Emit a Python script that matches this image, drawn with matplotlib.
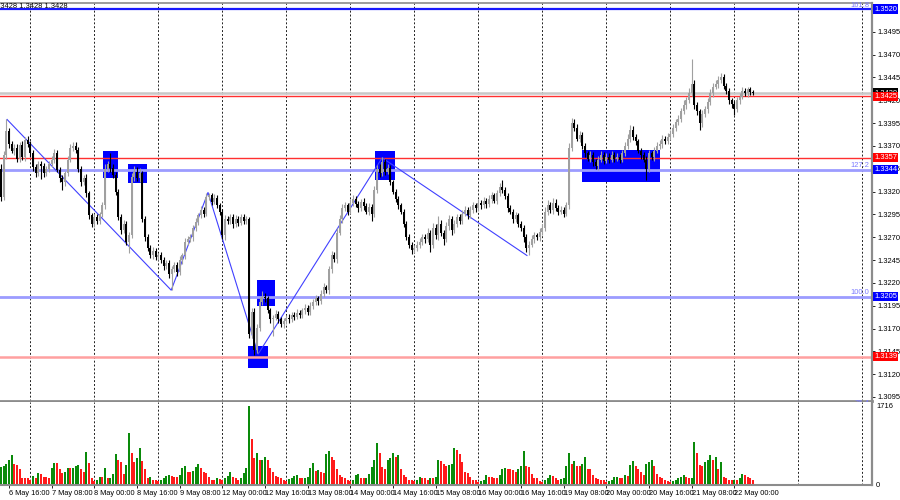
import numpy as np
import matplotlib
matplotlib.use("Agg")
import matplotlib.pyplot as plt
from matplotlib.patches import Rectangle

plt.rcParams["font.family"] = ["Liberation Sans", "DejaVu Sans"]

# GBPUSD H1, one entry per bar, 6 May 13:00 .. 22 May 07:00
# prices kept as the last four digits: 3314 -> 1.3314
first_open = 3345
closes = [
    3314, 3360, 3386, 3372, 3365, 3368, 3356, 3371, 3358, 3377, 3372, 3362,
    3347, 3340, 3350, 3348, 3340, 3345, 3350, 3355, 3362, 3344, 3335, 3330,
    3340, 3355, 3368, 3370, 3366, 3345, 3330, 3335, 3318, 3294, 3285, 3292,
    3288, 3295, 3305, 3345, 3350, 3346, 3338, 3320, 3292, 3278, 3285, 3265,
    3272, 3336, 3342, 3335, 3340, 3290, 3270, 3258, 3250, 3255, 3248, 3250,
    3245, 3238, 3242, 3230, 3235, 3240, 3232, 3245, 3250, 3265,
    3268, 3270, 3280, 3287, 3294, 3300, 3296, 3314, 3316, 3309, 3313, 3305, 3298,
    3272, 3290, 3288, 3292, 3284, 3290, 3286, 3292, 3288, 3290,
    3164, 3188, 3146, 3171, 3199, 3205, 3203, 3190, 3180, 3182,
    3186, 3180, 3175, 3178, 3182, 3180, 3185, 3183, 3187, 3185,
    3190, 3193, 3188, 3195, 3199, 3203, 3200, 3208, 3215, 3212, 3235, 3250, 3246, 3275, 3290, 3302,
    3305, 3298, 3308, 3312, 3306, 3302, 3309, 3304, 3298, 3303, 3296,
    3322, 3345, 3340, 3352, 3342, 3346, 3330, 3320, 3312, 3305, 3298, 3285, 3270, 3262, 3256, 3258,
    3262, 3265, 3270,
    3268, 3275, 3262, 3280, 3272, 3285, 3275, 3268, 3282, 3290, 3278, 3285, 3292, 3288, 3296, 3300,
    3294, 3300, 3305, 3302, 3308, 3305, 3310, 3306, 3312, 3316, 3310, 3318, 3325, 3322,
    3315, 3302, 3298, 3290, 3294, 3285, 3280, 3270, 3258, 3262, 3268, 3272, 3270, 3276, 3280, 3298,
    3305, 3300, 3308, 3302, 3298, 3300, 3296, 3305,
    3368, 3395, 3390, 3378, 3382, 3370, 3362, 3356, 3360, 3352, 3348, 3355, 3360, 3354,
    3358, 3355, 3360, 3356, 3358, 3355, 3362, 3370, 3378, 3388, 3380, 3375, 3365, 3360, 3355, 3345,
    3362, 3358, 3365, 3370, 3372, 3378, 3375, 3380,
    3383, 3390, 3396, 3400, 3408, 3415, 3420, 3428, 3438, 3415, 3408, 3395, 3405, 3410, 3418, 3428,
    3435, 3438, 3442, 3446, 3436, 3430, 3420, 3416, 3410, 3420, 3424, 3430, 3428, 3432, 3429, 3428,
]
# wick lengths above / below the body, in pips
wick_up = [
    5, 5, 13, 4, 3, 4, 4, 3, 4, 3, 4, 3,
    4, 3, 3, 4, 3, 3, 4, 4, 5, 4, 3, 3,
    3, 4, 4, 4, 4, 3, 3, 3, 4, 3, 3, 4,
    3, 3, 4, 5, 4, 12, 4, 3, 3, 3, 4, 3,
    4, 4, 6, 5, 6, 3, 3, 3, 3, 4, 3, 3,
    4, 3, 3, 3, 4, 3, 3, 4, 3, 4,
    3, 4, 3, 4, 3, 4, 3, 4, 3, 3, 4, 3, 3,
    3, 4, 3, 4, 3, 4, 3, 4, 3, 3,
    2, 5, 4, 4, 5, 6, 4, 3, 3, 3,
    4, 3, 3, 4, 3, 4, 3, 3, 4, 3,
    3, 4, 3, 4, 3, 4, 3, 4, 5, 3, 4, 5, 4, 5, 4, 4,
    4, 3, 4, 4, 3, 4, 3, 4, 3, 4, 3,
    4, 4, 5, 6, 4, 4, 3, 3, 3, 3, 3, 3, 3, 3, 3, 4, 4, 4, 4,
    4, 5, 3, 6, 4, 8, 4, 3, 5, 4, 3, 4, 4, 3, 4, 4, 3, 4, 4, 3, 4, 3, 4, 3, 4, 4, 3, 4, 4, 8,
    3, 3, 3, 3, 4, 3, 3, 3, 3, 4, 4, 4, 3, 4, 4, 5, 6, 4, 5, 4, 3, 4, 3, 4,
    5, 6, 4, 4, 4, 3, 3, 3, 4, 3, 4, 4, 4, 3,
    4, 4, 4, 3, 4, 3, 4, 4, 5, 5, 4, 3, 3, 3, 3, 4, 4, 3, 4, 4, 4, 4, 3, 4,
    4, 4, 4, 4, 4, 5, 4, 5, 27, 4, 3, 3, 4, 4, 4, 4, 4, 4, 5, 4, 3, 3, 3, 3, 3, 4, 4, 5, 4, 3, 3, 2,
]
wick_dn = [
    4, 3, 4, 4, 3, 5, 4, 4, 3, 4, 3, 4,
    4, 4, 3, 14, 4, 3, 4, 3, 4, 3, 4, 8,
    4, 3, 3, 4, 4, 3, 4, 3, 4, 4, 4, 4,
    4, 3, 3, 4, 3, 4, 3, 4, 3, 4, 3, 4,
    12, 3, 4, 3, 4, 3, 4, 3, 3, 4, 3, 3,
    3, 4, 3, 5, 18, 3, 4, 3, 4, 4,
    3, 3, 4, 3, 4, 3, 4, 3, 3, 4, 3, 3, 4,
    4, 5, 3, 4, 4, 3, 4, 3, 4, 3,
    4, 4, 5, 3, 4, 3, 4, 3, 4, 18,
    3, 4, 3, 4, 3, 4, 3, 4, 3, 4,
    3, 4, 3, 3, 4, 3, 4, 3, 4, 3, 4, 4, 3, 4, 3, 4,
    3, 4, 3, 4, 3, 4, 3, 4, 3, 4, 8,
    4, 3, 4, 3, 4, 3, 3, 3, 3, 4, 3, 4, 3, 4, 4, 3, 3, 4, 3,
    4, 3, 8, 4, 4, 5, 4, 6, 3, 4, 6, 3, 4, 3, 4, 3, 4, 3, 3, 4, 3, 4, 3, 4, 3, 4, 3, 4, 3, 4,
    3, 4, 3, 4, 3, 4, 3, 5, 4, 8, 3, 4, 3, 4, 4, 3, 4, 3, 4, 3, 4, 3, 4, 3,
    4, 3, 4, 3, 4, 3, 4, 3, 4, 4, 3, 4, 3, 4,
    3, 4, 3, 4, 3, 4, 3, 3, 3, 4, 3, 4, 3, 4, 3, 12, 4, 3, 4, 3, 3, 4, 3, 3,
    3, 3, 4, 3, 4, 3, 4, 3, 3, 4, 4, 7, 4, 3, 4, 3, 4, 3, 4, 3, 4, 3, 4, 4, 6, 3, 4, 3, 3, 4, 3, 2,
]
volumes = [
    380, 390, 440, 520, 630, 430, 420, 320, 140, 130, 130, 80,
    180, 140, 250, 230, 165, 150, 140, 350, 470, 460, 340, 250,
    255, 350, 345, 355, 400, 410, 320, 260, 700, 470, 130, 60,
    80, 160, 160, 350, 130, 140, 230, 650, 520, 480, 230, 420,
    1110, 690, 490, 570, 800, 500, 320, 140, 160, 80, 80, 70,
    90, 130, 180, 190, 180, 160, 150, 210, 350, 400,
    270, 270, 290, 370, 430, 350, 270, 250, 150, 100, 100, 130, 120,
    90, 140, 180, 270, 160, 130, 100, 130, 250, 350,
    1716, 990, 570, 690, 520, 530, 590, 520, 350, 260,
    180, 160, 130, 90, 70, 110, 140, 180, 210, 140,
    130, 140, 160, 350, 470, 290, 300, 270, 250, 650, 730, 590, 520, 320, 210, 160,
    130, 90, 75, 100, 190, 230, 140, 130, 140, 230, 380,
    520, 910, 690, 380, 320, 520, 580, 690, 600, 630, 340, 210, 160, 100, 80, 60, 100, 150, 130,
    130, 100, 130, 130, 160, 530, 500, 430, 400, 420, 430, 800, 740, 670, 480, 270, 250, 150,
    100, 100, 50, 70, 90, 190, 160, 150, 130, 130, 210, 320,
    350, 340, 320, 300, 270, 320, 390, 730, 400, 380, 220, 140, 140, 70, 40, 100, 130, 210,
    170, 130, 100, 110, 130, 390,
    690, 430, 500, 400, 400, 430, 590, 340, 320, 190, 130, 110, 95, 80,
    50, 70, 100, 150, 160, 140, 140, 210, 180, 420, 500, 400, 320, 270, 210, 430, 490, 530,
    390, 230, 160, 130, 90, 70,
    50, 70, 80, 140, 150, 210, 160, 130, 140, 930, 690, 420, 390, 480, 520, 630, 530, 600,
    340, 480, 160, 140, 100, 90, 100, 100, 130, 230, 210, 160, 130, 90,
]
n = len(closes)
assert len(wick_up) == n and len(wick_dn) == n and len(volumes) == n

date_labels = ["6 May 16:00", "7 May 08:00", "8 May 00:00", "8 May 16:00", "9 May 08:00",
               "12 May 00:00", "12 May 16:00", "13 May 08:00", "14 May 00:00", "14 May 16:00",
               "15 May 08:00", "16 May 00:00", "16 May 16:00", "19 May 08:00", "20 May 00:00",
               "20 May 16:00", "21 May 08:00", "22 May 00:00"]
price_ticks = [1.3095, 1.3120, 1.3145, 1.3170, 1.3195, 1.3220, 1.3245, 1.3270, 1.3295,
               1.3320, 1.3345, 1.3370, 1.3395, 1.3420, 1.3445, 1.3470, 1.3495]

fib_levels = [1.3520, 1.3344, 1.3205, 1.3084]
fib_names = ["161.8", "127.2", "100.0", "76.4"]
red_levels = [1.3425, 1.3357, 1.3139]
bid = 1.3428

# blue boxes: first bar, last bar, top, bottom
box_t0 = [38.2, 47.6, 140.2, 217.8, 96.0, 92.6]
box_t1 = [43.9, 54.7, 147.7, 247.1, 102.7, 100.1]
box_top = [1.3364, 1.3350, 1.3364, 1.3366, 1.3223, 1.3151]
box_bot = [1.3335, 1.3329, 1.3333, 1.3331, 1.3195, 1.3127]

zz_idx = [2.25, 63.8, 77.6, 96.4, 142.9, 197.2]
zz_price = [1.3399, 1.3212, 1.3319, 1.3142, 1.3357, 1.3250]

c = 1 + np.array(closes) / 10000
o = np.concatenate([[1 + first_open / 10000], c[:-1]])
hi = np.maximum(o, c) + np.array(wick_up) / 10000
lo = np.minimum(o, c) - np.array(wick_dn) / 10000
idx = np.arange(n)
bull = c >= o

FS = 5.4
W, H = 900, 500
fig = plt.figure(figsize=(9, 5), dpi=100)
ax = fig.add_axes([0, 1 - 401 / H, 872 / W, (401 - 3) / H])
vax = fig.add_axes([0, 1 - 485 / H, 872 / W, (485 - 402) / H])

xlim = (-0.4, 326.6)
grid_idx = np.arange(11, 327, 24)
for a in (ax, vax):
    a.set_xlim(*xlim)
    for g in grid_idx:
        a.axvline(g, color="#202020", lw=0.7, ls=(0, (2, 2)), zorder=0)
    for s in a.spines.values():
        s.set_color("#8c8c8c")
    a.spines["left"].set_visible(False)
    a.spines["right"].set_linewidth(1.6)

ax.spines["bottom"].set_linewidth(2)
ax.spines["top"].set_linewidth(1.2)
vax.spines["top"].set_visible(False)
vax.spines["bottom"].set_linewidth(1.5)

# price panel
ax.set_ylim(1.30906, 1.35266)
for t0, t1, tp, bt in zip(box_t0, box_t1, box_top, box_bot):
    ax.add_patch(Rectangle((t0, bt), t1 - t0, tp - bt, color="#0000ff", lw=0, zorder=1))

ax.axhline(bid, color="#c8c8c8", lw=1.8, zorder=1.5)
ax.axhline(fib_levels[0], color="#1a1aff", lw=1.6, zorder=1.5)
for lv in fib_levels[1:]:
    ax.axhline(lv, color="#9c9cff", lw=2, zorder=1.5)
ax.axhline(red_levels[0], color="#ff3030", lw=1, zorder=1.5)
ax.axhline(red_levels[1], color="#ff3030", lw=1, zorder=1.5)
ax.axhline(red_levels[2], color="#ffa0a0", lw=1.8, zorder=1.5)

ax.plot(zz_idx, zz_price, color="#4040ff", lw=0.8, zorder=2)

cols = np.where(bull, "#a0a0a0", "#000000")
ax.vlines(idx, lo, hi, colors=cols, lw=0.8, zorder=3)
body = np.maximum(np.abs(c - o), 0.00008)
ax.bar(idx, body, bottom=np.minimum(o, c), width=0.75, color=cols, lw=0, zorder=3)

ytr = ax.get_yaxis_transform()
for lv, nm in zip(fib_levels, fib_names):
    ax.text(0.997, lv + 0.00005, nm, transform=ytr, ha="right", va="bottom",
            fontsize=FS, color="#7a7aff", zorder=4)

ax.yaxis.tick_right()
ax.set_yticks(price_ticks)
ax.set_yticklabels([f"{p:.4f}" for p in price_ticks])
ax.tick_params(axis="y", labelsize=FS, length=2, pad=2, colors="black", width=0.6)
ax.set_xticks([])


def tag(y, text, fc):
    ax.text(1.0025, y, text, transform=ytr, ha="left", va="center", fontsize=FS,
            color="white", zorder=6, clip_on=False,
            bbox=dict(boxstyle="square,pad=0.15", fc=fc, ec=fc, lw=0))


tag(fib_levels[0], "1.3520", "#0000ff")
tag(bid, "1.3428", "#000000")
tag(red_levels[0] - 0.0001, "1.3425", "#ff0000")
tag(red_levels[1], "1.3357", "#ff0000")
tag(fib_levels[1], "1.3344", "#0000ff")
tag(fib_levels[2], "1.3205", "#0000ff")
tag(red_levels[2], "1.3139", "#ff0000")

# volume panel
vol = np.array(volumes)
vcols = ["#0a8a0a"] + ["#0a8a0a" if vol[i] > vol[i - 1] else "#ff1a1a" for i in range(1, n)]
vax.bar(idx, vol, width=0.78, color=vcols, lw=0, zorder=3)
vax.set_ylim(-20, 1800)
vax.yaxis.tick_right()
vax.set_yticks([0, 1716])
vax.set_yticklabels(["0", "1716"])
vax.tick_params(axis="y", labelsize=FS, length=0, pad=3)
vax.set_xticks([3 + 16 * k for k in range(len(date_labels))])
vax.set_xticklabels(date_labels, ha="left",
                    family=["Liberation Sans Narrow", "Liberation Sans", "DejaVu Sans"])
vax.tick_params(axis="x", labelsize=5.3, length=2, pad=1.5, width=0.6)

fig.text(-6 / W, 1 - 7 / H, "1.3428 1.3428 1.3428", fontsize=FS, va="center")

fig.savefig("out.png", dpi=100)
